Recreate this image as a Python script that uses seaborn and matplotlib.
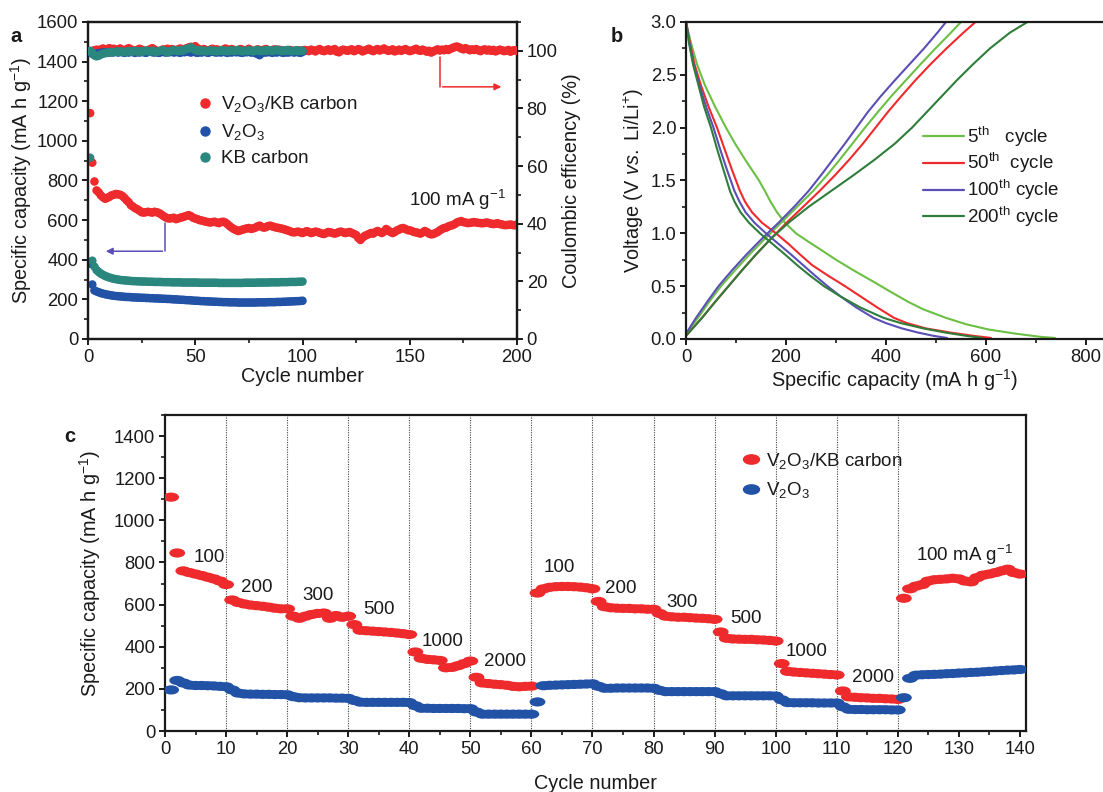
import numpy as np
import pandas as pd
import matplotlib
matplotlib.use("Agg")
import matplotlib.pyplot as plt
import seaborn as sns
from matplotlib.path import Path
from matplotlib.transforms import Affine2D
from matplotlib.lines import Line2D
from matplotlib.ticker import MultipleLocator

# ---------------- DATA ----------------
# Panel a: cycling at 100 mA g-1
cap_kb = [1140, 890, 795, 750, 740, 725, 715, 708, 712, 718, 725, 728, 732, 730, 728, 722, 712, 700, 690, 675,
          668, 660, 655, 648, 640, 638, 640, 642, 640, 638, 642, 640, 636, 630, 622, 615, 610, 608, 610, 612,
          605, 608, 612, 615, 618, 622, 625, 620, 612, 608, 605, 600, 598, 595, 592, 590, 588, 590, 592, 588,
          585, 590, 592, 588, 580, 570, 562, 555, 550, 545, 548, 552, 555, 558, 560, 556, 558, 562, 568, 572,
          566, 562, 565, 570, 572, 568, 565, 562, 560, 558, 555, 552, 548, 545, 540, 538, 540, 542, 538, 535,
          540, 544, 540, 535, 538, 542, 540, 536, 532, 530, 535, 540, 538, 535, 532, 535, 540, 542, 538, 535,
          538, 540, 535, 530, 525, 510, 500, 512, 520, 525, 530, 535, 532, 540, 545, 540, 535, 542, 555, 548,
          540, 535, 540, 548, 552, 558, 560, 555, 550, 548, 545, 540, 538, 535, 532, 538, 545, 540, 532, 528,
          530, 535, 540, 548, 555, 560, 562, 568, 572, 575, 580, 588, 592, 595, 590, 588, 585, 586, 588, 590,
          588, 586, 585, 584, 586, 588, 585, 582, 580, 582, 584, 580, 578, 575, 575, 576, 578, 575, 574, 578]
cap_v2o3 = [380, 275, 245, 240, 236, 232, 229, 226, 224, 222, 220, 218, 217, 216, 215, 214, 213, 212, 212, 211,
            210, 210, 209, 209, 208, 208, 207, 207, 206, 206, 205, 205, 204, 204, 203, 203, 202, 202, 201, 200,
            200, 199, 198, 198, 197, 196, 196, 195, 194, 193, 193, 192, 191, 191, 190, 190, 189, 189, 188, 188,
            187, 187, 186, 186, 186, 185, 185, 185, 185, 184, 184, 184, 184, 184, 184, 184, 184, 184, 185, 185,
            185, 185, 185, 186, 186, 186, 186, 187, 187, 187, 188, 188, 189, 189, 190, 190, 191, 191, 192, 193]
cap_kbc = [915, 395, 365, 348, 338, 330, 324, 318, 314, 310, 307, 304, 302, 300, 298, 297, 296, 295, 294, 293,
           292, 292, 291, 291, 290, 290, 290, 289, 289, 289, 288, 288, 288, 288, 287, 287, 287, 287, 286, 286,
           286, 286, 286, 285, 285, 285, 285, 285, 285, 285, 285, 284, 284, 284, 284, 284, 284, 284, 284, 284,
           283, 283, 283, 283, 283, 283, 283, 283, 283, 283, 283, 283, 284, 284, 284, 284, 284, 284, 285, 285,
           285, 285, 285, 285, 286, 286, 286, 286, 286, 287, 287, 287, 287, 288, 288, 288, 288, 289, 289, 290]
ce_kb = [99.6, 99.9, 100.2, 100.4, 100.1, 100.5, 100.8, 100.3, 100.6, 100.9, 100.4, 100.7, 100.2, 100.5, 100.8, 100.3, 100.1, 100.6, 100.9, 100.5,
         100.2, 99.8, 100.3, 100.7, 100.4, 100.1, 99.7, 100.2, 100.6, 100.9, 100.4, 100.0, 99.4, 100.1, 100.5, 100.3, 100.7, 100.2, 100.6, 100.4,
         100.1, 100.5, 100.8, 100.3, 100.6, 100.9, 101.2, 101.4, 100.8, 101.6, 100.9, 100.5, 100.2, 100.6, 100.3, 99.9, 100.4, 100.7, 100.2, 100.5,
         100.3, 100.0, 100.4, 100.8, 100.5, 100.1, 100.6, 100.3, 99.9, 100.2, 100.6, 100.4, 100.0, 100.3, 100.7, 100.2, 99.8, 100.1, 100.5, 100.3,
         100.0, 100.4, 100.6, 100.2, 99.9, 100.3, 100.5, 100.1, 100.4, 100.2, 99.8, 99.5, 100.0, 100.3, 100.1, 99.6, 99.9, 100.2, 99.7, 100.0,
         100.3, 100.1, 99.9, 100.4, 100.2, 99.8, 100.3, 100.6, 100.1, 99.9, 100.2, 100.5, 100.0, 100.3, 100.6, 99.7, 99.5, 100.1, 100.4, 100.2,
         100.0, 100.3, 100.5, 99.9, 100.2, 100.6, 100.3, 99.8, 100.1, 100.4, 100.7, 100.2, 99.9, 100.3, 100.6, 100.1, 100.4, 100.8, 100.3, 100.0,
         100.2, 100.5, 99.8, 100.1, 100.4, 100.0, 100.3, 100.6, 100.2, 99.9, 100.1, 100.4, 100.7, 100.2, 100.0, 100.4, 100.1, 99.7, 100.0, 99.4,
         99.8, 100.2, 100.5, 100.1, 100.4, 100.2, 100.6, 100.3, 100.7, 101.0, 101.3, 101.5, 101.2, 100.8, 100.5, 100.9, 100.6, 100.2, 100.5, 100.3,
         100.6, 100.2, 99.9, 100.3, 100.5, 100.1, 100.4, 100.0, 100.3, 99.8, 100.1, 100.4, 100.2, 99.9, 100.0, 100.3, 99.7, 100.1, 100.2, 100.0]
ce_v2o3 = [99.4, 99.0, 98.8, 99.0, 99.2, 99.3, 99.4, 99.5, 99.3, 99.6, 99.4, 99.5, 99.7, 99.4, 99.6, 99.5, 99.3, 99.6, 99.4, 99.7,
           99.5, 99.3, 99.6, 99.4, 99.7, 99.5, 99.3, 99.6, 99.8, 99.5, 99.4, 99.6, 99.3, 99.5, 99.7, 99.4, 99.6, 99.5, 99.8, 99.4,
           99.6, 99.5, 99.3, 99.7, 99.5, 99.8, 99.6, 99.4, 99.7, 99.5, 99.3, 99.6, 99.4, 99.7, 99.5, 99.3, 99.6, 99.8, 99.5, 99.4,
           99.6, 99.4, 99.7, 99.5, 99.3, 99.6, 99.4, 99.7, 99.5, 99.6, 99.4, 99.3, 99.6, 99.5, 99.7, 99.4, 99.5, 99.2, 98.9, 98.5,
           99.2, 99.5, 99.4, 99.6, 99.5, 99.3, 99.6, 99.4, 99.7, 99.5, 99.3, 99.6, 99.4, 99.5, 99.7, 99.4, 99.6, 99.5, 99.3, 99.6]
ce_kbc = [100.0, 99.3, 98.4, 98.1, 98.3, 98.7, 99.0, 99.2, 99.4, 99.5, 99.6, 99.5, 99.7, 99.6, 99.8, 99.7, 99.5, 99.8, 99.9, 99.7,
          99.8, 100.0, 99.7, 99.9, 99.6, 99.8, 100.1, 99.9, 99.7, 100.0, 99.8, 99.6, 99.9, 100.1, 100.2, 99.9, 99.4, 99.8, 100.0, 100.3,
          100.1, 99.9, 100.2, 100.0, 100.4, 100.6, 100.9, 101.2, 100.7, 100.3, 100.0, 100.2, 99.9, 100.1, 99.8, 100.0, 100.2, 99.9, 100.1, 99.8,
          100.0, 100.2, 99.9, 100.1, 99.8, 100.0, 100.2, 99.9, 100.1, 100.3, 100.0, 99.8, 100.1, 99.9, 100.2, 100.0, 99.8, 100.1, 100.3, 100.0,
          99.9, 100.2, 100.0, 100.3, 100.1, 99.9, 100.2, 100.4, 100.1, 99.9, 100.2, 100.0, 100.3, 100.1, 99.8, 100.0, 100.2, 99.9, 100.1, 100.0]

# Panel b: charge/discharge profiles (capacity mA h g-1 read at given voltages)
cycles_b = ["5th", "50th", "100th", "200th"]
dis_v = {
    "5th":   [3.0, 2.8, 2.6, 2.4, 2.2, 2.0, 1.85, 1.7, 1.6, 1.5, 1.4, 1.3, 1.2, 1.1, 1.0, 0.92, 0.85, 0.75, 0.65,
              0.55, 0.45, 0.35, 0.28, 0.2, 0.14, 0.09, 0.05, 0.02, 0.01],
    "50th":  [3.0, 2.8, 2.6, 2.4, 2.2, 2.0, 1.8, 1.6, 1.4, 1.3, 1.2, 1.1, 1.0, 0.9, 0.8, 0.7, 0.6, 0.5, 0.4,
              0.3, 0.2, 0.15, 0.1, 0.06, 0.03, 0.01],
    "100th": [3.0, 2.8, 2.6, 2.4, 2.2, 2.0, 1.8, 1.6, 1.4, 1.3, 1.2, 1.1, 1.0, 0.9, 0.8, 0.7, 0.6, 0.5, 0.4,
              0.3, 0.2, 0.15, 0.1, 0.06, 0.03, 0.01],
    "200th": [3.0, 2.8, 2.6, 2.4, 2.2, 2.0, 1.8, 1.6, 1.4, 1.3, 1.2, 1.1, 1.0, 0.9, 0.8, 0.7, 0.6, 0.5, 0.4,
              0.3, 0.2, 0.15, 0.1, 0.06, 0.03, 0.01],
}
dis_cap = {
    "5th":   [0, 10, 22, 38, 58, 80, 98, 118, 132, 146, 158, 169, 182, 198, 220, 245, 268, 300, 335,
              372, 408, 445, 475, 520, 560, 605, 660, 710, 738],
    "50th":  [0, 8, 17, 30, 45, 62, 77, 92, 108, 118, 132, 152, 180, 205, 228, 252, 284, 318, 350,
              382, 416, 442, 480, 530, 575, 610],
    "100th": [0, 7, 15, 27, 40, 55, 68, 82, 97, 107, 119, 137, 160, 185, 210, 234, 258, 283, 310,
              340, 375, 400, 432, 465, 495, 522],
    "200th": [0, 6, 14, 25, 36, 50, 62, 75, 88, 97, 109, 126, 148, 173, 198, 222, 248, 276, 310,
              348, 395, 430, 475, 520, 560, 592],
}
chg_v_common = [0.2, 0.35, 0.5, 0.65, 0.8, 0.95, 1.1, 1.25, 1.4, 1.55, 1.7, 1.85, 2.0, 2.15, 2.3, 2.45, 2.6, 2.75, 2.9, 3.0]
chg_v = {
    "5th":   [0.05] + chg_v_common,
    "50th":  [0.03] + chg_v_common,
    "100th": [0.05] + chg_v_common,
    "200th": [0.03] + chg_v_common,
}
chg_cap = {
    "5th":   [0, 24, 46, 70, 98, 127, 158, 190, 222, 254, 282, 308, 333, 358, 384, 411, 440, 469, 499, 530, 550],
    "50th":  [0, 32, 58, 85, 112, 140, 170, 201, 234, 267, 298, 327, 354, 379, 404, 431, 459, 489, 521, 555, 579],
    "100th": [0, 20, 42, 65, 92, 121, 152, 185, 216, 245, 270, 294, 318, 341, 364, 390, 418, 447, 476, 503, 520],
    "200th": [0, 32, 58, 85, 112, 140, 170, 205, 245, 290, 335, 378, 418, 452, 482, 512, 542, 574, 608, 648, 683],
}

# Panel c: rate capability
rate_labels = ["100", "200", "300", "500", "1000", "2000", "100", "200", "300", "500", "1000", "2000", "100 mA g$^{-1}$"]
rate_kb = [1110, 845, 760, 752, 745, 738, 730, 722, 712, 695,
           622, 610, 603, 598, 595, 592, 588, 583, 580, 580,
           545, 535, 545, 553, 558, 560, 535, 548, 540, 545,
           505, 478, 476, 474, 472, 470, 468, 465, 462, 458,
           375, 345, 340, 338, 335, 300, 302, 310, 320, 332,
           255, 228, 225, 222, 220, 217, 212, 210, 212, 213,
           655, 675, 682, 685, 686, 686, 685, 683, 680, 675,
           615, 590, 585, 583, 582, 582, 580, 580, 578, 578,
           558, 545, 542, 540, 540, 538, 536, 535, 533, 530,
           470, 440, 437, 436, 435, 435, 433, 432, 430, 427,
           320, 283, 280, 278, 276, 274, 272, 270, 268, 266,
           190, 162, 160, 158, 157, 155, 155, 153, 152, 150,
           630, 675, 688, 695, 712, 718, 720, 722, 725, 722,
           712, 708, 728, 740, 745, 752, 760, 768, 752, 745]
rate_v2o3 = [195, 240, 228, 218, 216, 216, 215, 214, 212, 210,
             195, 180, 176, 175, 175, 174, 174, 173, 173, 172,
             163, 158, 157, 157, 157, 157, 157, 156, 156, 155,
             145, 137, 136, 136, 136, 136, 136, 136, 136, 135,
             120, 108, 108, 107, 107, 107, 107, 107, 106, 106,
             90, 80, 80, 80, 80, 80, 80, 80, 80, 80,
             138, 215, 217, 218, 219, 220, 221, 222, 223, 224,
             212, 203, 203, 204, 204, 204, 204, 204, 204, 203,
             193, 187, 187, 187, 187, 187, 187, 187, 187, 187,
             177, 167, 167, 167, 167, 167, 167, 167, 167, 166,
             148, 135, 134, 134, 134, 134, 133, 133, 133, 133,
             115, 103, 102, 102, 101, 101, 101, 101, 100, 100,
             158, 250, 265, 267, 268, 269, 270, 272, 273, 275,
             276, 278, 279, 281, 283, 285, 287, 289, 290, 292]
# label anchor positions (cycle, capacity) for the rate annotations
rate_label_x = [7.2, 15.0, 25.1, 35.1, 45.5, 55.7, 64.6, 74.7, 84.7, 95.1, 105.1, 116.0, 131.0]
rate_label_y = [822, 683, 645, 576, 425, 330, 778, 676, 611, 533, 378, 254, 838]
grid_cycles = [10, 20, 30, 40, 50, 60, 70, 80, 90, 100, 110, 120]

# ---------------- STYLE ----------------
sns.set_style("ticks")
plt.rcParams["font.family"] = ["Liberation Sans", "DejaVu Sans"]
plt.rcParams.update({
    "mathtext.fontset": "custom",
    "mathtext.rm": "Liberation Sans",
    "mathtext.it": "Liberation Sans:italic",
    "mathtext.bf": "Liberation Sans:bold",
    "mathtext.default": "regular",
    "axes.linewidth": 1.6,
    "axes.edgecolor": "#1a1a1a",
    "text.color": "#1a1a1a",
    "axes.labelcolor": "#1a1a1a",
    "xtick.color": "#1a1a1a",
    "ytick.color": "#1a1a1a",
    "font.size": 13,
})

RED = "#ee2a2c"
BLUE = "#2152a6"
TEAL = "#2a877d"
PURPLE = "#5a4fb5"
DKGREEN = "#2f7d3a"
LTGREEN = "#6cbf45"
TFS = 13.3   # tick labels
LFS = 14.3   # axis labels
XFS = 13.5   # legends / annotations

W, H = 1103, 792
fig = plt.figure(figsize=(W / 100, H / 100), dpi=100)


def ax_at(x0, x1, y0, y1):
    return fig.add_axes([x0 / W, (H - y1) / H, (x1 - x0) / W, (y1 - y0) / H])


def style_ticks(ax):
    ax.tick_params(axis="both", which="major", direction="out", length=4.5, width=1.4,
                   labelsize=TFS, pad=2.5)
    ax.tick_params(axis="both", which="minor", direction="out", length=2.8, width=1.2)


# ---------------- PANEL A ----------------
axa = ax_at(88, 517, 22, 339)
cyc200 = list(range(1, 201))
cyc100 = list(range(1, 101))
dfa = pd.concat([
    pd.DataFrame({"cycle": cyc200, "cap": cap_kb, "ce": ce_kb, "mat": "kb"}),
    pd.DataFrame({"cycle": cyc100, "cap": cap_v2o3, "ce": ce_v2o3, "mat": "v"}),
    pd.DataFrame({"cycle": cyc100, "cap": cap_kbc, "ce": ce_kbc, "mat": "c"}),
])
pal_a = {"kb": RED, "v": BLUE, "c": TEAL}
sns.scatterplot(data=dfa, x="cycle", y="cap", hue="mat", palette=pal_a, s=38,
                linewidth=0, legend=False, ax=axa, zorder=3)
axa.set_xlim(0, 200)
axa.set_ylim(0, 1600)
axa.xaxis.set_major_locator(MultipleLocator(50))
axa.xaxis.set_minor_locator(MultipleLocator(25))
axa.yaxis.set_major_locator(MultipleLocator(200))
axa.yaxis.set_minor_locator(MultipleLocator(100))
style_ticks(axa)
axa.set_xlabel("Cycle number", fontsize=LFS, labelpad=1)
axa.set_ylabel("Specific capacity (mA h g$^{-1}$)", fontsize=LFS, labelpad=2)

axa2 = axa.twinx()
sns.scatterplot(data=dfa, x="cycle", y="ce", hue="mat", palette=pal_a, s=38,
                linewidth=0, legend=False, ax=axa2, zorder=3)
axa2.set_ylim(0, 110)
axa2.yaxis.set_major_locator(MultipleLocator(20))
axa2.yaxis.set_minor_locator(MultipleLocator(10))
style_ticks(axa2)
axa2.set_ylabel("Coulombic efficency (%)", fontsize=LFS, labelpad=3)
for sp in axa2.spines.values():
    sp.set_linewidth(1.6)

# legend a
ha = [Line2D([], [], ls="", marker="o", ms=6.5, color=c) for c in (RED, BLUE, TEAL)]
axa.legend(ha, ["V$_2$O$_3$/KB carbon", "V$_2$O$_3$", "KB carbon"], loc="upper left",
           bbox_to_anchor=(0.228, 0.795), frameon=False, fontsize=XFS, handletextpad=0.3,
           handlelength=1.2, labelspacing=0.42, borderaxespad=0)
axa.text(172, 700, "100 mA g$^{-1}$", ha="center", va="center", fontsize=XFS)

# arrows
axa.plot([36, 36], [583, 443], color=PURPLE, lw=1.1, zorder=4)
axa.annotate("", xy=(7, 443), xytext=(36, 443),
             arrowprops=dict(arrowstyle="-|>", color=PURPLE, lw=1.1, mutation_scale=10), zorder=4)
axa2.plot([164, 164], [98, 87.5], color=RED, lw=1.1, zorder=4)
axa2.annotate("", xy=(194, 87.5), xytext=(164, 87.5),
              arrowprops=dict(arrowstyle="-|>", color=RED, lw=1.1, mutation_scale=10), zorder=4)

# ---------------- PANEL B ----------------
axb = ax_at(686, 1103, 22, 339)
rows = []
for c in cycles_b:
    for q, v in zip(dis_cap[c], dis_v[c]):
        rows.append((c, "dis", q, v))
    for q, v in zip(chg_cap[c], chg_v[c]):
        rows.append((c, "chg", q, v))
dfb = pd.DataFrame(rows, columns=["cyc", "branch", "cap", "volt"])
pal_b = {"5th": LTGREEN, "50th": RED, "100th": PURPLE, "200th": DKGREEN}
sns.lineplot(data=dfb, x="cap", y="volt", hue="cyc", units="branch", estimator=None,
             sort=False, palette=pal_b, lw=1.5, legend=False, ax=axb)
for ln in axb.lines:
    ln.set_solid_joinstyle("round")
axb.set_xlim(0, 834)
axb.set_ylim(0, 3.0)
axb.spines["right"].set_visible(False)
axb.xaxis.set_major_locator(MultipleLocator(200))
axb.xaxis.set_minor_locator(MultipleLocator(100))
axb.yaxis.set_major_locator(MultipleLocator(0.5))
axb.yaxis.set_minor_locator(MultipleLocator(0.25))
style_ticks(axb)
axb.set_xlabel("Specific capacity (mA h g$^{-1}$)", fontsize=LFS, labelpad=1)
axb.set_ylabel("Voltage (V $\\it{vs.}$ Li/Li$^{+}$)", fontsize=LFS, labelpad=3)
hb = [Line2D([], [], color=pal_b[c], lw=1.6) for c in cycles_b]
axb.legend(hb, ["5$^{th}$   cycle", "50$^{th}$  cycle", "100$^{th}$ cycle", "200$^{th}$ cycle"],
           loc="upper left", bbox_to_anchor=(0.55, 0.70), frameon=False, fontsize=XFS,
           handlelength=2.2, handletextpad=0.15, labelspacing=0.14, borderaxespad=0)

# ---------------- PANEL C ----------------
axc = ax_at(165, 1026, 415, 731)
cyc140 = list(range(1, 141))
dfc = pd.concat([
    pd.DataFrame({"cycle": cyc140, "cap": rate_kb, "mat": "kb"}),
    pd.DataFrame({"cycle": cyc140, "cap": rate_v2o3, "mat": "v"}),
])
ell = Affine2D().scale(1.0, 0.58).transform_path(Path.unit_circle())
for g in grid_cycles:
    axc.axvline(g, color="#444444", lw=0.8, ls=(0, (1, 1.2)), zorder=1)
sns.scatterplot(data=dfc, x="cycle", y="cap", hue="mat", palette={"kb": RED, "v": BLUE},
                marker=ell, s=130, linewidth=0, legend=False, ax=axc, zorder=3)
axc.set_xlim(0, 141)
axc.set_ylim(0, 1500)
axc.xaxis.set_major_locator(MultipleLocator(10))
axc.xaxis.set_minor_locator(MultipleLocator(5))
axc.yaxis.set_major_locator(MultipleLocator(200))
axc.yaxis.set_minor_locator(MultipleLocator(100))
style_ticks(axc)
axc.set_xlabel("Cycle number", fontsize=LFS, labelpad=12)
axc.set_ylabel("Specific capacity (mA h g$^{-1}$)", fontsize=LFS, labelpad=8)
for t, x, y in zip(rate_labels, rate_label_x, rate_label_y):
    axc.text(x, y, t, ha="center", va="center", fontsize=XFS, zorder=5)
hc = [Line2D([], [], ls="", marker=ell, ms=11.5, color=c) for c in (RED, BLUE)]
axc.legend(hc, ["V$_2$O$_3$/KB carbon", "V$_2$O$_3$"], loc="upper left",
           bbox_to_anchor=(0.659, 0.91), frameon=False, fontsize=XFS,
           handletextpad=0.2, handlelength=1.2, labelspacing=0.5, borderaxespad=0)

# panel letters
for lab, x, y in (("a", 16, 36), ("b", 617, 36), ("c", 70, 437)):
    fig.text(x / W, 1 - y / H, lab, ha="center", va="center", fontsize=14.5, fontweight="bold")

fig.savefig("out.png", dpi=100)
